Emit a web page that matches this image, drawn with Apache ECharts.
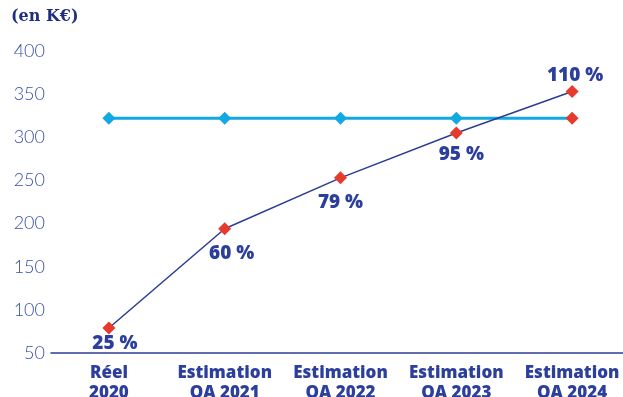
<!DOCTYPE html>
<html>
<head>
<meta charset="utf-8">
<script src="https://cdn.jsdelivr.net/npm/echarts@6/dist/echarts.min.js"></script>
<style>
  html, body { margin: 0; padding: 0; background: #fff; }
  #chart { width: 623px; height: 397px; }
</style>
</head>
<body>
<div id="chart"></div>
<script>
// catégories et valeurs (en K€)
var categories = ['Réel\n2020', 'Estimation\nOA 2021', 'Estimation\nOA 2022', 'Estimation\nOA 2023', 'Estimation\nOA 2024'];
var cibleValues = [322, 322, 322, 322, 322];
var realiseValues = [79, 194, 253, 305, 353];
var pctLabels = ['25 %', '60 %', '79 %', '95 %', '110 %'];

var navy = '#2b3d94';
var textBlue = '#2c3f9c';
var red = '#e63a2c';
var cyan = '#12a9e2';

// position des étiquettes % (autour du point)
var labelOffsets = [[6, 16], [7, 25], [0, 25], [5, 22], [3, -16]];

var chart = echarts.init(document.getElementById('chart'));

var realiseData = realiseValues.map(function (v, i) {
    return {
        value: v,
        label: {
            show: true,
            formatter: pctLabels[i],
            position: 'inside',
            offset: labelOffsets[i]
        }
    };
});

var cibleData = cibleValues.map(function (v, i) {
    if (i === cibleValues.length - 1) {
        return { value: v, itemStyle: { color: red } };
    }
    return v;
});

var option = {
    animation: false,
    grid: { left: 51, width: 579, top: 51, bottom: 44, outerBoundsMode: 'none', containLabel: false },
    graphic: [{
        type: 'text',
        left: 11,
        top: 9,
        style: {
            text: '(en K€)',
            font: 'bold 16px "DejaVu Serif"',
            fill: '#1f2f7e'
        }
    }],
    xAxis: {
        type: 'category',
        data: categories,
        boundaryGap: true,
        axisLine: { lineStyle: { color: navy, width: 1.5 } },
        axisTick: { show: false },
        axisLabel: {
            interval: 0,
            hideOverlap: false,
            color: textBlue,
            fontFamily: 'Open Sans',
            fontWeight: 800,
            fontSize: 17,
            lineHeight: 20,
            margin: 10
        }
    },
    yAxis: {
        type: 'value',
        min: 50,
        max: 400,
        interval: 50,
        axisLine: { show: false },
        axisTick: { show: false },
        splitLine: { show: false },
        axisLabel: {
            color: '#3a4fa6',
            fontFamily: 'Lato',
            fontWeight: 300,
            fontSize: 18,
            margin: 6
        }
    },
    series: [
        {
            name: 'Cible',
            type: 'line',
            data: cibleData,
            symbol: 'diamond',
            symbolSize: 13,
            lineStyle: { color: cyan, width: 3 },
            itemStyle: { color: cyan },
            z: 2
        },
        {
            name: 'Réalisé',
            type: 'line',
            data: realiseData,
            symbol: 'diamond',
            symbolSize: 13,
            lineStyle: { color: navy, width: 1.5 },
            itemStyle: { color: red },
            label: {
                color: textBlue,
                fontFamily: 'Open Sans',
                fontWeight: 800,
                fontSize: 19
            },
            z: 3
        }
    ]
};

chart.setOption(option);
</script>
</body>
</html>
